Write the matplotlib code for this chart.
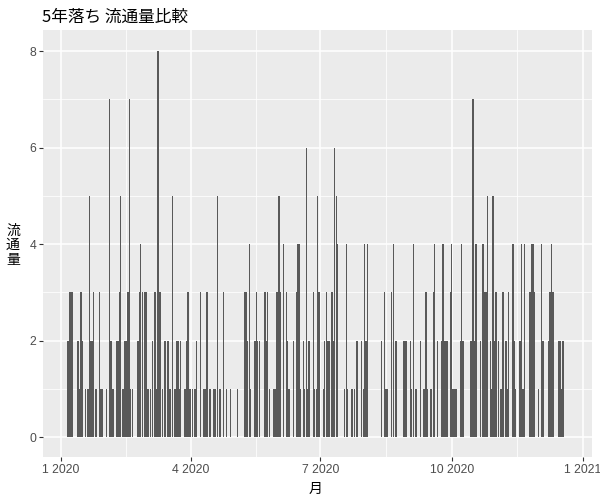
"""5年落ち 流通量比較 - daily counts, ggplot2 grey theme look"""

import numpy as np
import pandas as pd
import matplotlib
matplotlib.use("Agg")
import matplotlib.pyplot as plt
import matplotlib.dates as mdates

# day offsets from 2020-01-01 and the count on that day
day_offset = [
    5, 6, 7, 8, 12, 13, 14, 15, 17, 19, 20, 21, 22, 23, 24, 25, 27, 28, 29, 32,
    34, 35, 36, 37, 39, 40, 41, 42, 43, 44,
    45, 46, 47, 48, 49, 50, 54, 55, 56, 57, 59, 60, 61, 63, 64, 66, 67, 68, 69, 70,
    71, 73, 75, 76, 77, 78, 80, 81, 82, 83, 84, 87, 88, 89,
    90, 91, 92, 94, 95, 98, 100, 101, 102, 103, 104, 105, 107, 108, 110, 111, 112,
    114, 116, 119, 124, 129, 130, 131, 132, 133,
    136, 137, 138, 139, 143, 144, 145, 146, 149, 150, 151, 152, 153, 154, 156, 158,
    159, 160, 163, 165, 166, 167, 168, 170, 171, 172, 173, 174, 177, 178, 179,
    180, 181, 184, 185, 186, 187, 188, 190, 191, 192, 193, 194, 199, 200, 201, 204,
    206, 207, 208, 211, 212, 213, 214, 215,
    225, 227, 228, 229, 232, 233, 235, 240, 241, 242, 245, 246, 247, 249, 252, 254,
    255, 256, 257, 259, 260, 261, 262, 264, 267, 268,
    269, 270, 271, 273, 274, 275, 276, 277, 280, 281, 282, 287, 288, 289, 290, 291,
    294, 296, 297, 298, 299, 301, 302, 303, 304, 305, 307, 308, 309, 310, 312, 313,
    314, 317, 318, 319, 322, 323, 324, 325, 329, 330, 331, 332, 335, 337, 338, 342,
    343, 344, 345, 349, 350, 351, 352,
]
counts = [
    2, 3, 3, 3, 2, 1, 3, 2, 1, 1, 5, 2, 2, 3, 1, 1, 3, 1, 1, 1,
    7, 2, 1, 1, 2, 2, 3, 5, 1, 1,
    2, 2, 3, 7, 1, 1, 2, 3, 4, 3, 3, 3, 1, 1, 2, 3, 1, 8, 3, 3,
    1, 2, 2, 1, 1, 5, 1, 2, 2, 1, 2, 1, 2, 3,
    1, 1, 1, 1, 2, 3, 1, 1, 3, 3, 1, 1, 1, 1, 5, 1, 1,
    3, 1, 1, 1, 3, 3, 2, 4, 1,
    2, 3, 2, 2, 3, 2, 3, 1, 1, 1, 3, 3, 5, 3, 4, 3,
    2, 1, 2, 3, 4, 4, 1, 2, 1, 6, 1, 2, 3, 1, 1,
    5, 3, 1, 2, 3, 2, 2, 3, 2, 6, 5, 4, 1, 4, 1, 1,
    1, 2, 2, 2, 1, 4, 2, 4,
    2, 3, 1, 1, 3, 4, 2, 2, 2, 2, 2, 1, 4, 1, 2, 1,
    1, 3, 1, 1, 1, 3, 4, 2, 2, 4,
    2, 2, 2, 3, 4, 1, 1, 1, 2, 4, 2, 2, 2, 7, 2, 4,
    2, 4, 3, 3, 5, 2, 1, 5, 2, 3, 2, 1, 1, 3, 2, 1,
    3, 4, 2, 1, 2, 4, 1, 4, 3, 4, 4, 3, 1, 4, 2, 2,
    3, 4, 3, 2, 2, 1, 2,
]
x_ticks = ["2020-01-01", "2020-04-01", "2020-07-01", "2020-10-01", "2021-01-01"]
y_ticks = [0, 2, 4, 6, 8]

title = "5年落ち 流通量比較"
x_label = "月"
y_label = "流通量"

CJK = ["Noto Sans CJK JP", "DejaVu Sans"]


def main():
    dates = pd.to_datetime("2020-01-01") + pd.to_timedelta(day_offset, unit="D")
    xnum = mdates.date2num(dates.to_pydatetime())
    major = mdates.date2num(pd.to_datetime(x_ticks).to_pydatetime())
    minor = (major[:-1] + major[1:]) / 2

    fig = plt.figure(figsize=(6, 5), dpi=100)
    ax = fig.add_axes([43 / 600, 43 / 500, 549 / 600, 427 / 500])
    ax.set_facecolor("#EBEBEB")
    for s in ax.spines.values():
        s.set_visible(False)

    ax.bar(xnum, counts, width=0.9, color="#595959", linewidth=0, zorder=3)

    jan1 = major[0]
    ax.set_xlim(jan1 - 12.6, jan1 + 372.4)
    ax.set_ylim(-0.41, 8.44)

    ax.set_xticks(major)
    ax.set_xticklabels([f"{d.month} {d.year}" for d in pd.to_datetime(x_ticks)])
    ax.set_xticks(minor, minor=True)
    ax.set_yticks(y_ticks)
    ax.set_yticks([1, 3, 5, 7], minor=True)

    ax.grid(which="major", color="white", linewidth=1.1, zorder=1)
    ax.grid(which="minor", color="white", linewidth=0.55, zorder=1)
    ax.tick_params(which="major", length=3, width=0.8, color="#333333",
                   labelcolor="#4D4D4D", labelsize=8.8, pad=2)
    ax.tick_params(which="minor", length=0)
    for lab in ax.get_xticklabels() + ax.get_yticklabels():
        lab.set_family("Liberation Sans")

    fig.text(42 / 600, 1 - 17 / 500, title, family=CJK, fontsize=12,
             ha="left", va="center", color="black")
    fig.text(316 / 600, 1 - 489 / 500, x_label, family=CJK, fontsize=10,
             ha="center", va="center")
    fig.text(13 / 600, 1 - 245 / 500, "\n".join(y_label), family=CJK,
             fontsize=10, ha="center", va="center", linespacing=1.05)

    fig.savefig("out.png", dpi=100)


if __name__ == "__main__":
    main()
